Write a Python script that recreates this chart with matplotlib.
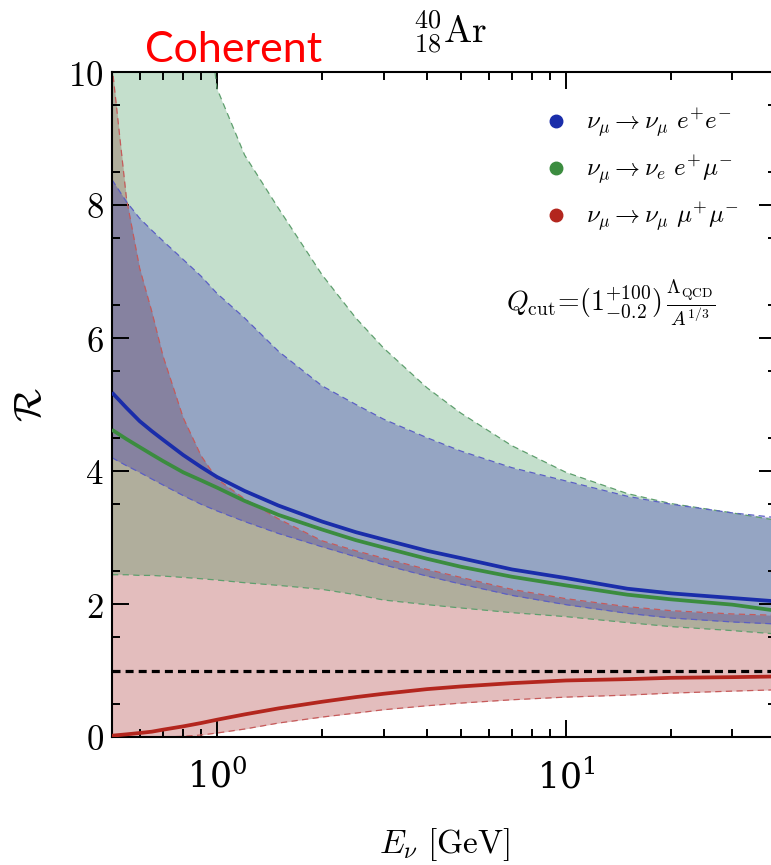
import numpy as np
import matplotlib
matplotlib.use('Agg')
import matplotlib.pyplot as plt
from matplotlib.lines import Line2D
from matplotlib.ticker import FixedLocator, FuncFormatter, NullFormatter

plt.rcParams['mathtext.fontset'] = 'cm'
plt.rcParams['font.family'] = 'serif'

# neutrino energy grid [GeV]
energy = [0.5, 0.55, 0.6, 0.65, 0.7, 0.8, 0.9, 1.0, 1.2, 1.5, 2, 2.5, 3,
          4, 5, 7, 10, 15, 20, 30, 40]

# nu_mu -> nu_mu e+ e-
ee_mid = [5.18, 4.95, 4.75, 4.60, 4.47, 4.24, 4.06, 3.91, 3.70, 3.48, 3.24,
          3.08, 2.97, 2.80, 2.69, 2.52, 2.39, 2.23, 2.16, 2.09, 2.04]
ee_lo = [4.20, 4.08, 3.98, 3.88, 3.79, 3.63, 3.50, 3.40, 3.24, 3.06, 2.86,
         2.71, 2.59, 2.42, 2.30, 2.13, 1.99, 1.86, 1.79, 1.73, 1.70]
ee_hi = [8.38, 8.05, 7.80, 7.62, 7.46, 7.18, 6.93, 6.67, 6.30, 5.80, 5.28,
         5.00, 4.78, 4.50, 4.30, 4.05, 3.85, 3.62, 3.50, 3.37, 3.30]

# nu_mu -> nu_e e+ mu-
emu_mid = [4.62, 4.48, 4.36, 4.25, 4.15, 3.98, 3.86, 3.75, 3.55, 3.34, 3.12,
           2.96, 2.85, 2.68, 2.56, 2.41, 2.28, 2.14, 2.07, 1.99, 1.90]
emu_lo = [2.44, 2.44, 2.43, 2.43, 2.42, 2.40, 2.38, 2.36, 2.32, 2.28, 2.22,
          2.14, 2.06, 1.99, 1.94, 1.87, 1.81, 1.72, 1.66, 1.60, 1.55]
emu_hi = [40.0, 33.0, 27.0, 23.0, 19.5, 14.6, 11.7, 9.75, 8.75, 7.95, 6.95,
          6.30, 5.85, 5.25, 4.87, 4.38, 3.98, 3.66, 3.51, 3.37, 3.26]

# nu_mu -> nu_mu mu+ mu-
mumu_mid = [0.02, 0.04, 0.06, 0.08, 0.11, 0.16, 0.21, 0.26, 0.34, 0.43, 0.53,
            0.60, 0.65, 0.72, 0.76, 0.81, 0.85, 0.87, 0.89, 0.90, 0.91]
mumu_lo = [0.0, 0.0, 0.0, 0.0, 0.0, 0.01, 0.03, 0.06, 0.12, 0.21, 0.30,
           0.36, 0.41, 0.47, 0.51, 0.56, 0.60, 0.63, 0.66, 0.69, 0.71]
mumu_hi = [10.1, 8.1, 7.05, 6.40, 5.73, 4.80, 4.23, 3.88, 3.58, 3.28, 2.95,
           2.80, 2.69, 2.52, 2.40, 2.22, 2.08, 1.96, 1.90, 1.85, 1.83]

labels = [r'$\nu_\mu \rightarrow \nu_\mu\ e^{+}e^{-}$',
          r'$\nu_\mu \rightarrow \nu_e\ e^{+}\mu^{-}$',
          r'$\nu_\mu \rightarrow \nu_\mu\ \mu^{+}\mu^{-}$']

fill_colors = {'ee': (23/255, 12/255, 172/255),
               'emu': (40/255, 137/255, 70/255),
               'mumu': (155/255, 11/255, 14/255)}
edge_colors = {'ee': '#5b5fc4', 'emu': '#5f9f6e', 'mumu': '#c65a5a'}
line_colors = {'ee': '#1a2daa', 'emu': '#3b8c3f', 'mumu': '#b3261e'}

fig = plt.figure(figsize=(7.71, 8.65), dpi=100)
ax = fig.add_axes([112/771, 128/865, 664/771, 665/865])

E = np.array(energy)
bands = [('mumu', mumu_lo, mumu_hi), ('emu', emu_lo, emu_hi), ('ee', ee_lo, ee_hi)]
for key, lo, hi in bands:
    ax.fill_between(E, lo, hi, color=fill_colors[key], alpha=0.27, lw=0, zorder=1)
for key, lo, hi in bands:
    for edge in (lo, hi):
        ax.plot(E, edge, color=edge_colors[key], lw=0.9, ls=(0, (5, 3.5)), zorder=2)

ax.axhline(1.0, color='black', lw=2.3, ls=(0, (2.5, 1.6)), zorder=3)

for key, mid in [('mumu', mumu_mid), ('emu', emu_mid), ('ee', ee_mid)]:
    ax.plot(E, mid, color=line_colors[key], lw=2.7, zorder=4, solid_capstyle='butt')

ax.set_xscale('log')
ax.set_xlim(0.5, 40)
ax.set_ylim(0, 10)

ax.xaxis.set_major_locator(FixedLocator([1, 10]))
ax.xaxis.set_minor_locator(FixedLocator([0.6, 0.7, 0.8, 0.9, 2, 3, 4, 5, 6, 7, 8, 9, 20, 30]))
ax.xaxis.set_minor_formatter(NullFormatter())
ax.yaxis.set_major_locator(FixedLocator([0, 2, 4, 6, 8, 10]))
ax.yaxis.set_minor_locator(FixedLocator(np.arange(0.5, 10, 1.0)))
ax.yaxis.set_major_formatter(FuncFormatter(lambda v, p: r'$%d$' % v))

ax.tick_params(which='both', direction='in', top=True, right=True, width=1.4, colors='black')
ax.tick_params(which='major', length=12, labelsize=25)
ax.tick_params(which='minor', length=6)
ax.tick_params(axis='x', which='major', pad=16)
ax.tick_params(axis='y', which='major', pad=6)
for sp in ax.spines.values():
    sp.set_linewidth(1.5)

ax.set_xlabel(r'$E_\nu\ [\mathrm{GeV}]$', fontsize=24, labelpad=22)
ax.set_ylabel(r'$\mathcal{R}$', fontsize=28, labelpad=14)

handles = [Line2D([], [], ls='none', marker='o', markersize=9, color=c)
           for c in ('#1a2daa', '#3b8c3f', '#b3261e')]
ax.legend(handles, labels, loc='upper left', bbox_to_anchor=(0.657, 0.947),
          frameon=False, fontsize=18, handlelength=0.6, handletextpad=0.9,
          labelspacing=0.55, borderpad=0, borderaxespad=0)

ax.text(0.7515, 0.6526,
        r'$Q_{\rm cut}\!=\!(1^{+100}_{-0.2})\,\frac{\Lambda_{\rm QCD}}{A^{1/3}}$',
        transform=ax.transAxes, ha='center', va='center', fontsize=20)

fig.text(145/771, 1 - 62/865, 'Coherent', color='red', family='Lato',
         fontsize=31, ha='left', va='baseline')
fig.text(413/771, 1 - 44/865, r'$^{40}_{18}\mathrm{Ar}$', fontsize=27,
         ha='left', va='baseline')

fig.savefig('out.png', dpi=100)
